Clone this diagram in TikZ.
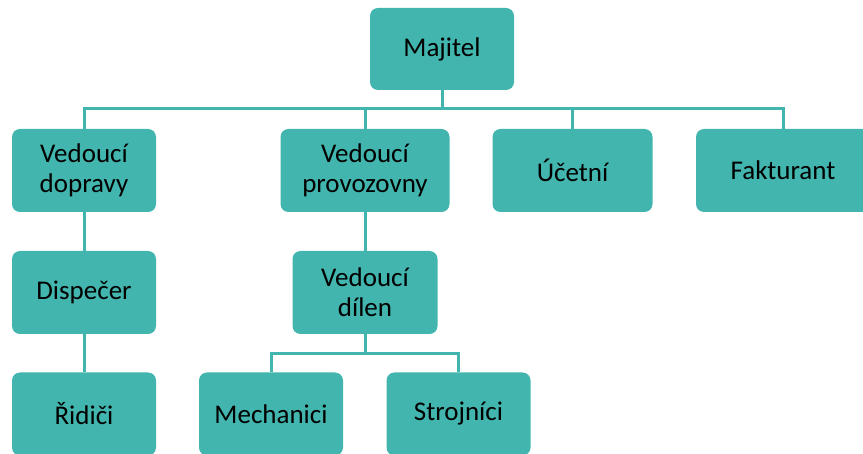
\documentclass[tikz,border=0pt]{standalone}
\usepackage{fontspec}
\setmainfont{Carlito}
\definecolor{teal1}{HTML}{41B5AE}
\tikzset{
  orgbox/.style={fill=teal1, draw=none, rounded corners=8pt, inner sep=0pt,
    minimum width=144pt, minimum height=83pt, align=center,
    font=\fontsize{27pt}{30pt}\selectfont, text=black},
  conn/.style={draw=teal1, line width=3pt}
}
\begin{document}
\begin{tikzpicture}[x=1pt,y=-1pt]
\useasboundingbox (0,0) rectangle (863,454);
\clip (0,0) rectangle (863,454);
\node[orgbox, minimum height=82pt] (maj) at (442,49) {Majitel};
\node[orgbox] (vd) at (84,170.5) {Vedoucí\\dopravy};
\node[orgbox, minimum width=169pt] (vp) at (365,170.5) {Vedoucí\\provozovny};
\node[orgbox, minimum width=160pt] (uc) at (572.5,170.5) {Účetní};
\node[orgbox, minimum width=174pt] (fa) at (783,170.5) {Fakturant};
\node[orgbox] (di) at (84,292.5) {Dispečer};
\node[orgbox, minimum width=145pt] (dl) at (365,292.5) {Vedoucí\\dílen};
\node[orgbox, minimum height=83pt] (ri) at (84,414) {Řidiči};
\node[orgbox] (me) at (271,414) {Mechanici};
\node[orgbox] (st) at (458.5,414) {Strojníci};
\coordinate (bus1) at (442,109);
\coordinate (bus2) at (365,353.3);
\path[conn] (maj.south) -- (bus1);
\path[conn] (vd.north) |- (bus1);
\path[conn] (vp.north) |- (bus1);
\path[conn] (uc.north) |- (bus1);
\path[conn] (fa.north) |- (bus1);
\path[conn] (vd.south) -- (di.north);
\path[conn] (di.south) -- (ri.north);
\path[conn] (vp.south) -- (dl.north);
\path[conn] (dl.south) -- (bus2);
\path[conn] (me.north) |- (bus2);
\path[conn] (st.north) |- (bus2);
\end{tikzpicture}
\end{document}
